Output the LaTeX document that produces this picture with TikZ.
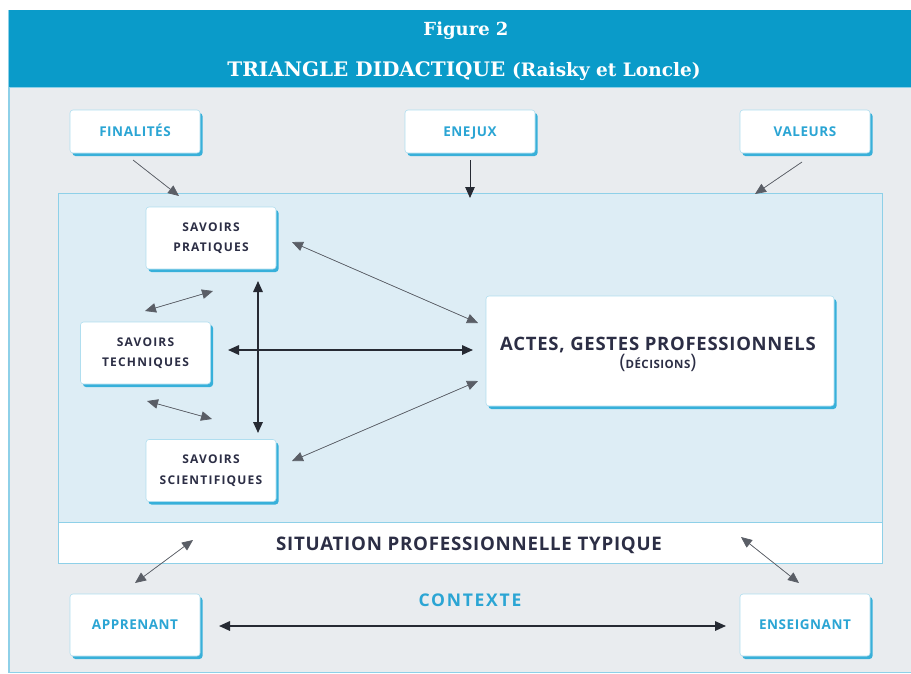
\documentclass[tikz,border=0pt]{standalone}
\usepackage{fontspec}
\setmainfont{Liberation Serif}
\newfontfamily\titlefont{DejaVu Serif}
\newfontfamily\boxfont{Open Sans}
\newfontfamily\boxfontw{Open Sans}[LetterSpace=10]
\newfontfamily\boxfontm{Open Sans}[LetterSpace=4]
\usetikzlibrary{arrows.meta,shadows}
\definecolor{headblue}{HTML}{0A9BC9}
\definecolor{bggray}{HTML}{E9ECEF}
\definecolor{innerblue}{HTML}{DDEDF5}
\definecolor{edgeblue}{HTML}{8ED0E8}
\definecolor{labblue}{HTML}{2BA5D4}
\definecolor{darktext}{HTML}{2C2E45}
\definecolor{darkarrow}{HTML}{262A33}
\definecolor{thinarrow}{HTML}{5A5E66}
\definecolor{shadowblue}{HTML}{1BA6D6}
\tikzset{
  tip/.tip={Triangle[length=11pt,width=9.5pt]},
  card/.style={draw=edgeblue!70, line width=0.6pt, fill=white, rounded corners=3pt,
    drop shadow={fill=shadowblue, shadow xshift=2.5pt, shadow yshift=-3pt, opacity=0.85},
    align=center, inner sep=0pt},
  outcard/.style={card, minimum width=130pt, text=labblue, text height=9.8pt, text depth=0pt, font=\boxfontm\bfseries\fontsize{13.5}{16}\selectfont},
  savcard/.style={card, minimum width=130pt, minimum height=62pt, text=darktext, font=\boxfontw\bfseries\fontsize{12}{20.5}\selectfont},
  thin/.style={tip-tip, line width=0.7pt, draw=thinarrow, fill=darkarrow},
  thick/.style={tip-tip, darkarrow, line width=1.6pt},
  thinone/.style={-tip, line width=0.7pt, draw=thinarrow, fill=darkarrow},
}
\begin{document}
\begin{tikzpicture}[x=1pt,y=-1pt]
\useasboundingbox (0,0) rectangle (911,673);
% frame
\fill[bggray] (9,10) rectangle (911,673);
\draw[edgeblue, line width=1.2pt] (9,10) -- (9,673);
\draw[edgeblue, line width=1pt] (9,672) -- (911,672);
\fill[headblue] (9,10) rectangle (911,87);
\draw[edgeblue, line width=1pt] (9,87) -- (911,87);
\node[anchor=base, text=white, font=\titlefont\bfseries\fontsize{18}{22}\selectfont] (fig) at (466,35) {Figure 2};
\node[anchor=base, text=white, font=\titlefont\bfseries\fontsize{20}{24}\selectfont] (title) at (464,76.5) {TRIANGLE DIDACTIQUE {\fontsize{18.5}{20}\selectfont(Raisky et Loncle)}};
% inner region
\node[draw=edgeblue, line width=0.8pt, fill=innerblue, minimum width=824pt, minimum height=329pt, inner sep=0pt] (zone) at (470,357.5) {};
\node[draw=edgeblue, line width=0.8pt, fill=white, minimum width=824pt, minimum height=41pt, inner sep=0pt] (situ) at (470,542.5) {};
\node[anchor=base, text=darktext, font=\boxfontm\bfseries\fontsize{18.7}{20}\selectfont] (situt) at (469,550.5) {SITUATION PROFESSIONNELLE TYPIQUE};
% top cards
\node[outcard, minimum height=43pt] (fin) at (135,131.5) {FINALITÉS};
\node[outcard, minimum height=43pt] (enj) at (470,131.5) {ENEJUX};
\node[outcard, minimum height=43pt] (val) at (805,131.5) {VALEURS};
% savoirs
\node[savcard] (prat) at (211,238) {SAVOIRS\\PRATIQUES};
\node[savcard] (tech) at (145.5,353) {SAVOIRS\\TECHNIQUES};
\node[savcard] (scie) at (211,470.5) {SAVOIRS\\SCIENTIFIQUES};
\node[card, minimum width=348pt, minimum height=110pt] (actes) at (660,351) {};
\node[anchor=base, text=darktext, font=\boxfontm\bfseries\fontsize{18.5}{20}\selectfont] (actt) at (658,350) {ACTES, GESTES PROFESSIONNELS};
\node[anchor=base, text=darktext, font=\boxfontm\bfseries\fontsize{11.5}{13}\selectfont] (dec) at (658,368) {{\boxfont\mdseries\fontsize{20}{18}\selectfont(}DÉCISIONS{\boxfont\mdseries\fontsize{20}{18}\selectfont)}};
% bottom cards
\node[outcard, minimum height=62pt] (app) at (135,625) {APPRENANT};
\node[outcard, minimum height=62pt] (ens) at (805,625) {ENSEIGNANT};
\node[anchor=base, text=labblue, font=\boxfontw\bfseries\fontsize{17.5}{18}\selectfont] (ctx) at (470,606.5) {CONTEXTE};
% coordinates for arrow ends
\coordinate (f1) at (133,160); \coordinate (f2) at (179,196);
\coordinate (e1) at (470,160); \coordinate (e2) at (470,198);
\coordinate (v1) at (802,162); \coordinate (v2) at (755,194);
\coordinate (pa1) at (292,242); \coordinate (pa2) at (478,323);
\coordinate (ta1) at (228,350); \coordinate (ta2) at (473,350);
\coordinate (sa1) at (292,461); \coordinate (sa2) at (478,381);
\coordinate (vv1) at (258,281); \coordinate (vv2) at (258,433);
\coordinate (pt1) at (145,311); \coordinate (pt2) at (213,291);
\coordinate (ts1) at (147,401); \coordinate (ts2) at (212,419);
\coordinate (sp1) at (135,583); \coordinate (sp2) at (193,540);
\coordinate (se1) at (799,583); \coordinate (se2) at (741,537);
\coordinate (c1) at (219,626); \coordinate (c2) at (726,626);
\draw[thinone] (f1) -- (f2);
\draw[-tip, darkarrow, line width=1pt] (e1) -- (e2);
\draw[thinone] (v1) -- (v2);
\draw[thin] (pa1) -- (pa2);
\draw[thick] (ta1) -- (ta2);
\draw[thin] (sa1) -- (sa2);
\draw[thick] (vv1) -- (vv2);
\draw[thin] (pt1) -- (pt2);
\draw[thin] (ts1) -- (ts2);
\draw[thin] (sp1) -- (sp2);
\draw[thin] (se1) -- (se2);
\draw[thick] (c1) -- (c2);
\end{tikzpicture}
\end{document}
